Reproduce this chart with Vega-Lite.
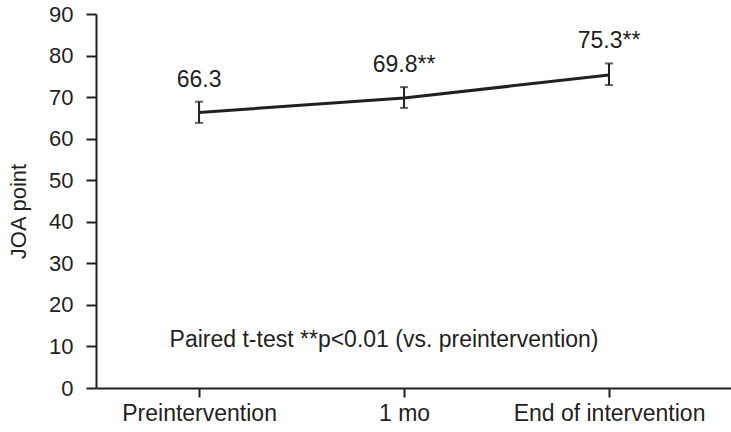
{
  "$schema": "https://vega.github.io/schema/vega-lite/v6.json",
  "width": 635,
  "height": 374,
  "autosize": "none",
  "padding": {"left": 96, "top": 14, "right": 0, "bottom": 44},
  "background": "white",
  "config": {
    "view": {"stroke": null},
    "font": "Liberation Sans",
    "axis": {"grid": false, "domainColor": "#231f20", "tickColor": "#231f20", "domainWidth": 2, "tickWidth": 2, "labelColor": "#231f20", "titleColor": "#231f20", "labelFont": "Liberation Sans", "titleFont": "Liberation Sans", "titleFontWeight": "normal", "labelLimit": 0}
  },
  "data": {"values": [
    {"time": "Preintervention", "mean": 66.3, "lower": 63.8, "upper": 68.9, "label": "66.3"},
    {"time": "1 mo", "mean": 69.8, "lower": 67.4, "upper": 72.4, "label": "69.8**"},
    {"time": "End of intervention", "mean": 75.3, "lower": 72.9, "upper": 78.1, "label": "75.3**"}
  ]},
  "encoding": {
    "x": {"field": "time", "type": "nominal", "sort": null,
      "scale": {"type": "point", "padding": 0.549, "align": 0.458},
      "axis": {"title": null, "labelAngle": 0, "labelFontSize": 23, "tickSize": 9, "labelPadding": 5, "labelLimit": 0}
    }
  },
  "layer": [
    {
      "mark": {"type": "line", "color": "#231f20", "strokeWidth": 3},
      "encoding": {
        "y": {"field": "mean", "type": "quantitative",
          "scale": {"domain": [0, 90], "nice": false},
          "axis": {"title": "JOA point", "values": [0,10,20,30,40,50,60,70,80,90], "labelFontSize": 22, "titleFontSize": 22, "tickSize": 10, "labelPadding": 13, "titleX": -66, "titleY": 197}
        }
      }
    },
    {
      "mark": {"type": "rule", "color": "#231f20", "strokeWidth": 2},
      "encoding": {"y": {"field": "lower", "type": "quantitative"}, "y2": {"field": "upper"}}
    },
    {
      "mark": {"type": "tick", "color": "#231f20", "thickness": 2, "size": 8},
      "encoding": {"y": {"field": "lower", "type": "quantitative"}}
    },
    {
      "mark": {"type": "tick", "color": "#231f20", "thickness": 2, "size": 8},
      "encoding": {"y": {"field": "upper", "type": "quantitative"}}
    },
    {
      "mark": {"type": "text", "fontSize": 23, "color": "#231f20", "align": "center", "baseline": "middle", "dy": -22},
      "encoding": {"y": {"field": "upper", "type": "quantitative"}, "text": {"field": "label"}}
    },
    {
      "data": {"values": [{"note": "Paired t-test **p<0.01 (vs. preintervention)", "time": "1 mo", "pos": 11.5}]},
      "mark": {"type": "text", "fontSize": 23, "color": "#231f20", "align": "center", "baseline": "middle", "dx": -20},
      "encoding": {
        "y": {"field": "pos", "type": "quantitative"},
        "text": {"field": "note"}
      }
    }
  ]
}
